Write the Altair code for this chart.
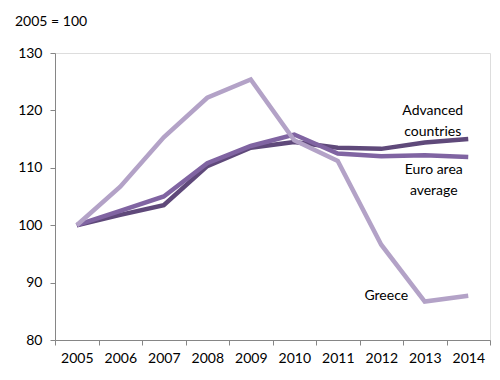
import altair as alt
import pandas as pd

years = ["2005", "2006", "2007", "2008", "2009", "2010", "2011", "2012", "2013", "2014"]
advanced = [100, 101.8, 103.5, 110.3, 113.5, 114.5, 113.5, 113.3, 114.4, 115.0]
euro = [100, 102.5, 105.0, 110.8, 113.8, 115.8, 112.5, 112.0, 112.2, 111.9]
greece = [100, 106.7, 115.3, 122.2, 125.4, 114.8, 111.2, 96.6, 86.7, 87.7]

series = ["Advanced countries", "Euro area average", "Greece"]
colors = ["#5F497A", "#8064A2", "#B3A2C7"]

rows = []
for s, vals in zip(series, [advanced, euro, greece]):
    for i, (y, v) in enumerate(zip(years, vals)):
        rows.append({"year": y, "value": v, "series": s, "order": series.index(s)})
df = pd.DataFrame(rows)

FONT = "Lato"

x = alt.X("year:O", sort=years, title=None,
          scale=alt.Scale(paddingInner=0, paddingOuter=0),
          axis=alt.Axis(labelAngle=0, tickBand="extent", domainColor="#868686",
                        tickColor="#868686", tickSize=5, labelFontSize=14,
                        labelFont=FONT, labelColor="#000000", labelPadding=6,
                        grid=False))
y = alt.Y("value:Q", title=None,
          scale=alt.Scale(domain=[80, 130], nice=False, zero=False),
          axis=alt.Axis(values=[80, 90, 100, 110, 120, 130], domainColor="#868686",
                        tickColor="#868686", tickSize=5, labelFontSize=14,
                        labelFont=FONT, labelColor="#000000", labelPadding=8,
                        grid=False))

lines = alt.Chart(df).mark_line(strokeWidth=4.5, strokeCap="butt").encode(
    x=x, y=y,
    color=alt.Color("series:N", scale=alt.Scale(domain=series, range=colors), legend=None),
    order=alt.Order("year:O"),
    detail="series:N",
)

lab_text = [["Advanced", "countries"], ["Euro area", "average"], ["Greece"]]
lab_year = ["2013", "2013", "2012"]
lab_val = [119.9, 109.6, 87.6]
lab_dx = [8, 9, 5]
labels_df = pd.DataFrame({"year": lab_year, "value": lab_val, "text": lab_text, "dx": lab_dx})

labels = []
for i in range(len(lab_year)):
    labels.append(
        alt.Chart(labels_df.iloc[[i]]).mark_text(
            fontSize=14, font=FONT, color="#000000", align="center", baseline="middle",
            lineHeight=21, dx=lab_dx[i]
        ).encode(x=alt.X("year:O", sort=years), y="value:Q", text="text")
    )

title_df = pd.DataFrame({"t": ["2005 = 100"]})
title = alt.Chart(title_df).mark_text(
    fontSize=14, font=FONT, color="#000000", align="left", baseline="middle"
).encode(x=alt.value(-40), y=alt.value(-31), text="t:N")

chart = alt.layer(lines, *labels, title).properties(
    width=435, height=287,
    autosize=alt.AutoSizeParams(type="none"),
    padding={"left": 47, "top": 45, "right": 2, "bottom": 30},
).configure_view(stroke=None).configure(background="white")

chart.save("out.html", embed_options={"renderer": "svg", "actions": False})
